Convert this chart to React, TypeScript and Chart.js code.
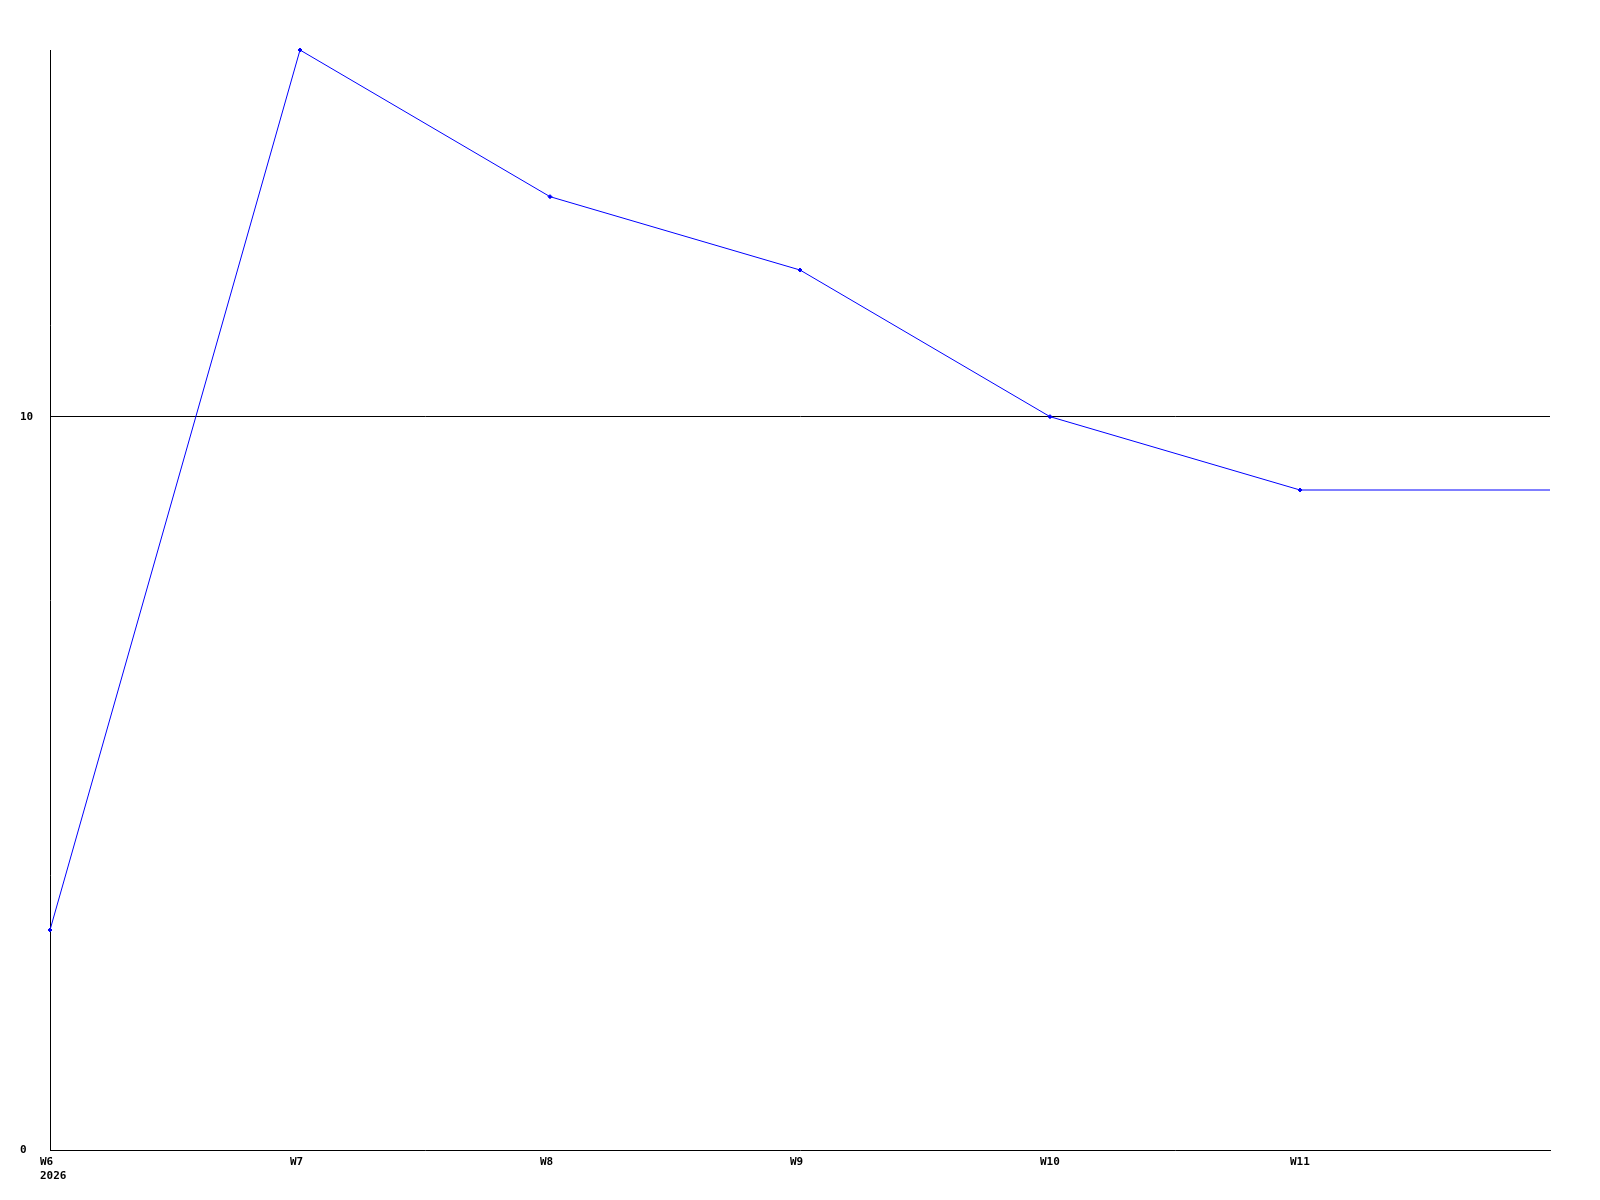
import React, { useEffect, useRef } from "react";
import { Chart, registerables } from "chart.js";

Chart.register(...registerables);

const weekLabels: (string | string[])[] = [["W6", "2026"], "W7", "W8", "W9", "W10", "W11", ""];
const values: number[] = [3, 15, 13, 12, 10, 9, 9];
const markerRadii: number[] = [2, 2, 2, 2, 2, 2, 0];
const yTickValues: number[] = [0, 10];
const yMax = 15;

export default function App() {
  const canvasRef = useRef<HTMLCanvasElement | null>(null);

  useEffect(() => {
    const canvas = canvasRef.current;
    if (!canvas) return;
    const font = { family: "'DejaVu Sans Mono', monospace", size: 11, weight: "bold" as const, lineHeight: "14px" };
    const chart = new Chart(canvas, {
      type: "line",
      data: {
        labels: weekLabels,
        datasets: [
          {
            data: values,
            borderColor: "#0000ff",
            backgroundColor: "#0000ff",
            borderWidth: 1,
            pointRadius: markerRadii,
            pointStyle: "rectRot",
            pointBorderWidth: 1,
            pointBorderColor: "#0000ff",
            pointBackgroundColor: "#0000ff",
            tension: 0,
            fill: false,
            clip: 6,
          },
        ],
      },
      options: {
        responsive: false,
        animation: false,
        devicePixelRatio: 1,
        layout: { padding: { top: 50, right: 50, left: 20, bottom: 0 } },
        plugins: { legend: { display: false }, tooltip: { enabled: false }, title: { display: false } },
        scales: {
          x: {
            type: "category",
            offset: false,
            grid: { display: false, drawTicks: false },
            border: { display: true, color: "#000000", width: 1 },
            ticks: {
              autoSkip: false,
              maxRotation: 0,
              minRotation: 0,
              align: "start",
              labelOffset: -10,
              padding: 5,
              color: "#000000",
              font,
            },
            afterFit: (scale: any) => {
              scale.height = 50;
            },
          },
          y: {
            type: "linear",
            min: 0,
            max: yMax,
            grid: {
              drawTicks: false,
              color: (ctx: any) => (ctx.tick && ctx.tick.value === 10 ? "#000000" : "rgba(0,0,0,0)"),
              lineWidth: 1,
            },
            border: { display: true, color: "#000000", width: 1 },
            ticks: {
              crossAlign: "far",
              padding: 0,
              color: "#000000",
              font,
            },
            afterBuildTicks: (scale: any) => {
              scale.ticks = yTickValues.map((v) => ({ value: v }));
            },
            afterFit: (scale: any) => {
              scale.width = 30;
            },
          },
        },
      },
    });
    return () => chart.destroy();
  }, []);

  return (
    <div style={{ position: "absolute", left: 0, top: 0, width: 1600, height: 1200, background: "#ffffff" }}>
      <canvas ref={canvasRef} width={1600} height={1200} style={{ display: "block", width: 1600, height: 1200 }} />
    </div>
  );
}
